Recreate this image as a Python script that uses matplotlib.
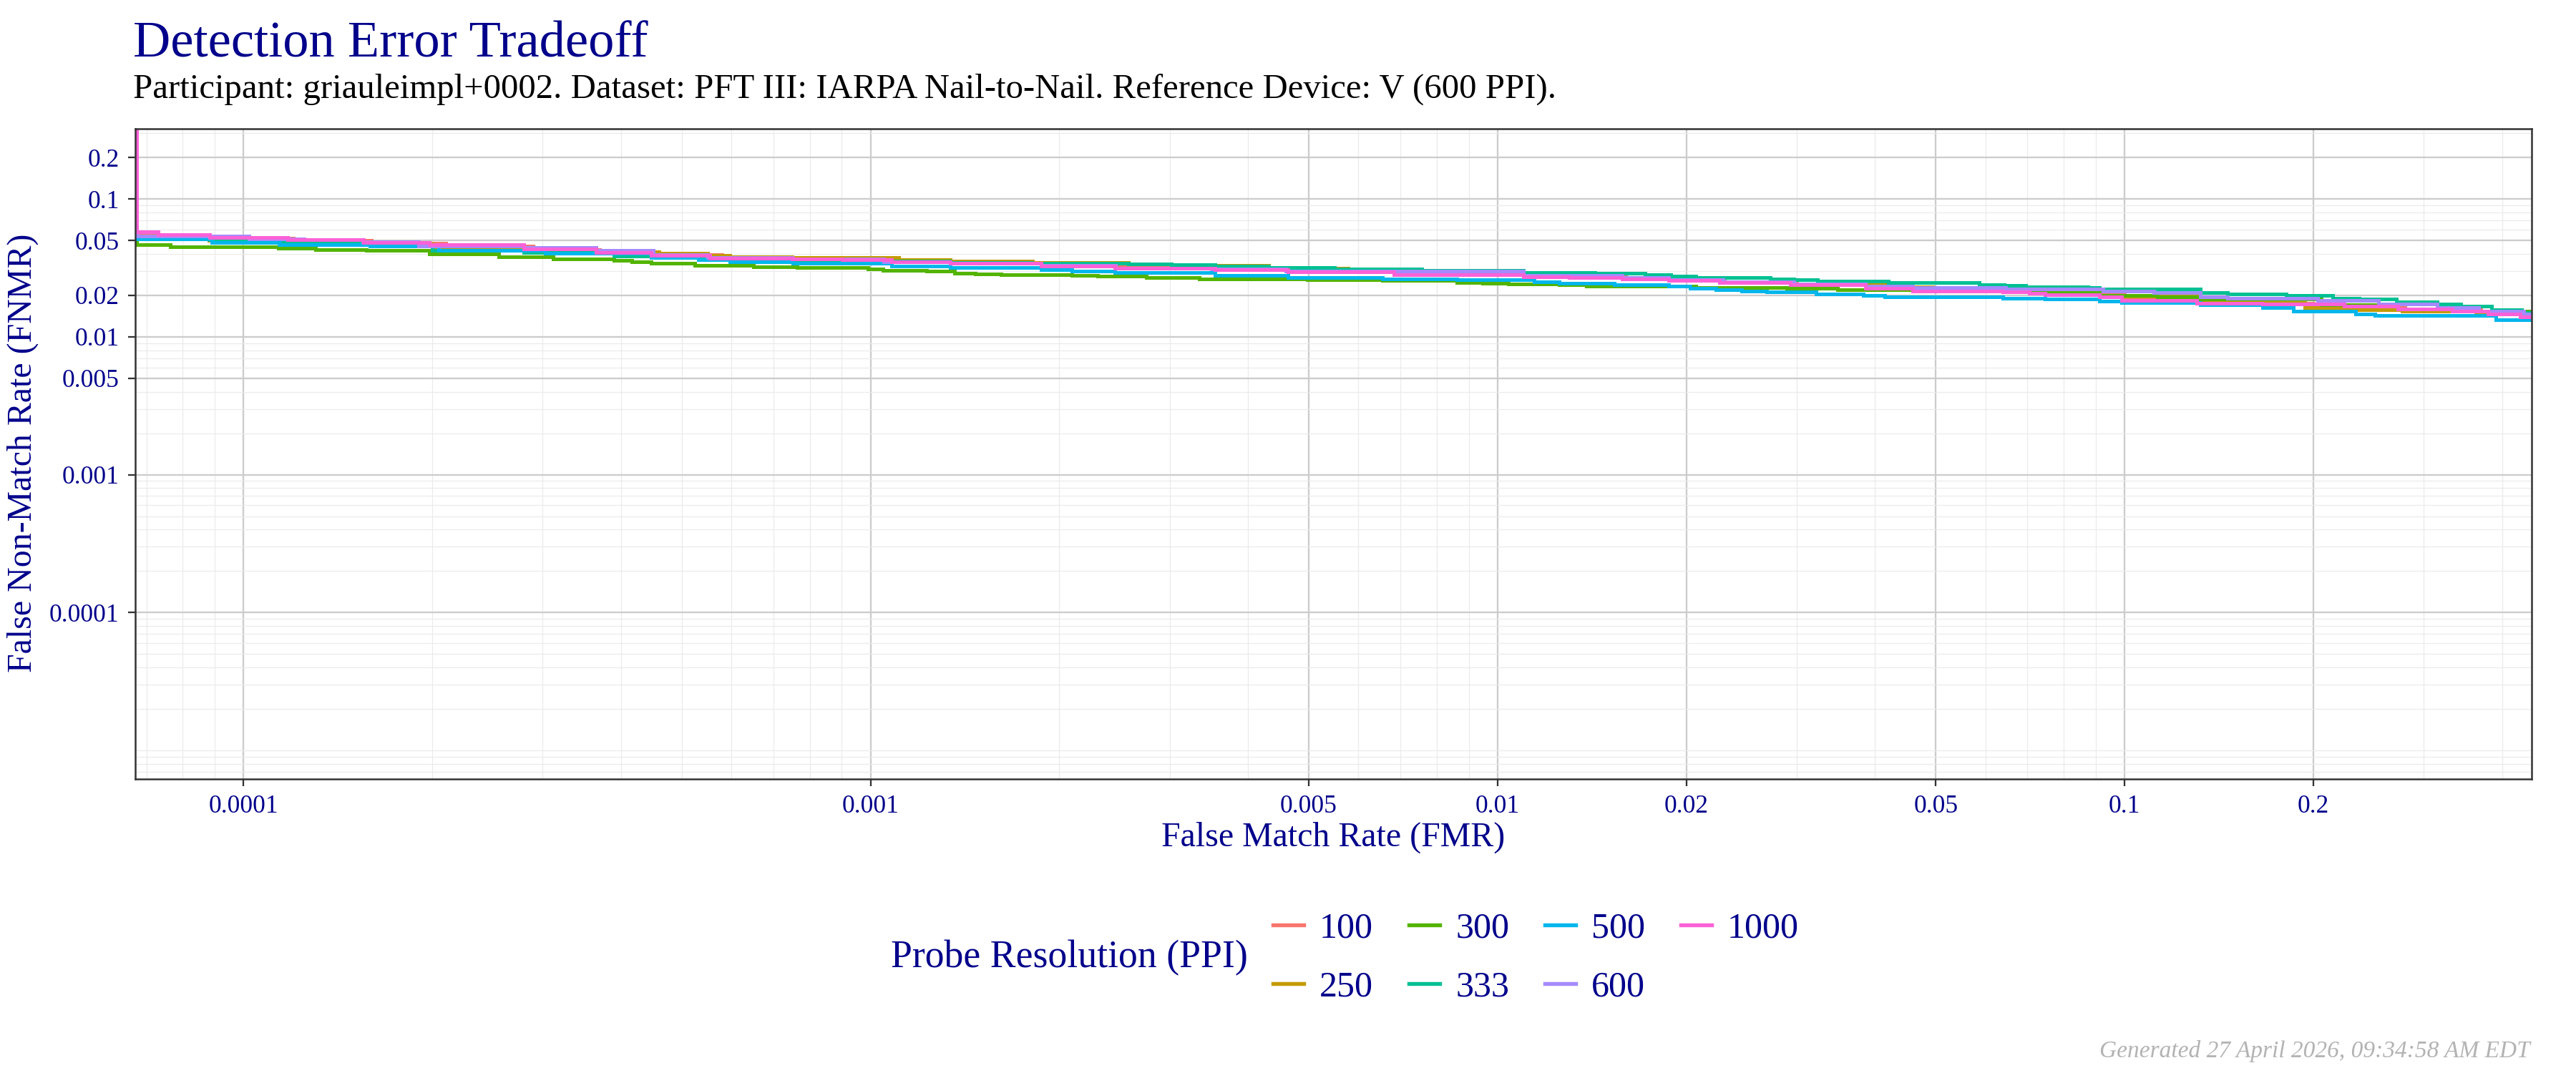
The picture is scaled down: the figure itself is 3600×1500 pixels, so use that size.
import matplotlib
matplotlib.use("Agg")
import matplotlib.pyplot as plt
from matplotlib.ticker import FixedLocator, NullFormatter
from matplotlib.lines import Line2D

plt.rcParams['font.family'] = ['Liberation Serif', 'DejaVu Serif']

# ---------------- data ----------------
series_labels = ["100", "250", "300", "333", "500", "600", "1000"]
series_colors = ["#F8766D", "#C49A00", "#53B400", "#00C094", "#00B6EB", "#A58AFF", "#FB61D7"]

fmr_100 = [6.75e-5, 6.75e-5, 8.8e-5, 1.2e-4, 1.6e-4, 2.1e-4, 2.9e-4, 3.7e-4, 4.6e-4, 5.8e-4, 7.5e-4, 1.05e-3,
           1.4e-3, 1.9e-3, 2.6e-3, 3.5e-3, 4.7e-3, 6.9e-3, 1.1e-2, 1.6e-2, 2.3e-2, 3.0e-2, 4.0e-2, 5.5e-2,
           7.5e-2, 0.1, 0.14, 0.2, 0.28, 0.37, 0.46]
fnmr_100 = [1.0, 0.0545, 0.0520, 0.0500, 0.0480, 0.0455, 0.0430, 0.0412, 0.0395, 0.0378, 0.0368, 0.0352,
            0.0343, 0.0331, 0.0318, 0.0309, 0.0299, 0.0286, 0.0274, 0.0264, 0.0251, 0.0240, 0.0228, 0.0218,
            0.0205, 0.0186, 0.0176, 0.0166, 0.0157, 0.0149, 0.0149]

fmr_250 = [6.75e-5, 6.75e-5, 8.8e-5, 1.18e-4, 1.55e-4, 2.0e-4, 2.8e-4, 3.65e-4, 4.6e-4, 5.5e-4, 5.97e-4, 7.5e-4,
           1.11e-3, 1.34e-3, 1.813e-3, 2.58e-3, 3.02e-3, 4.31e-3, 5.16e-3, 5.77e-3, 6.98e-3, 1.10e-2, 1.58e-2,
           2.26e-2, 2.93e-2, 4.15e-2, 4.94e-2, 7.05e-2, 9.13e-2, 0.1322, 0.194, 0.2337, 0.277, 0.363, 0.46]
fnmr_250 = [1.0, 0.0525, 0.0500, 0.0485, 0.0470, 0.0450, 0.0432, 0.0415, 0.0402, 0.0391, 0.0380, 0.0375,
            0.0361, 0.0355, 0.0348, 0.0337, 0.0330, 0.0318, 0.0314, 0.0308, 0.0295, 0.0280, 0.0266,
            0.0250, 0.0240, 0.0230, 0.0222, 0.0209, 0.0198, 0.0180, 0.0163, 0.0157, 0.0153, 0.0148, 0.0148]

fmr_300 = [6.75e-5, 6.75e-5, 7.64e-5, 1.136e-4, 1.302e-4, 1.57e-4, 1.978e-4, 2.55e-4, 3.12e-4, 3.90e-4,
           4.16e-4, 4.47e-4, 5.24e-4, 6.51e-4, 7.63e-4, 9.90e-4, 1.048e-3, 1.229e-3, 1.36e-3, 1.47e-3,
           1.616e-3, 2.094e-3, 2.30e-3, 2.755e-3, 3.345e-3, 4.97e-3, 6.55e-3, 8.62e-3, 9.47e-3, 1.04e-2,
           1.254e-2, 1.387e-2, 2.07e-2, 2.89e-2, 3.49e-2, 4.94e-2, 9.13e-2, 0.1128, 0.1322, 0.206, 0.273,
           0.363, 0.46]
fnmr_300 = [1.0, 0.0467, 0.0449, 0.0440, 0.0428, 0.0423, 0.0399, 0.0379, 0.0368, 0.0358,
            0.0350, 0.0340, 0.0331, 0.0323, 0.0320, 0.0311, 0.0305, 0.0298, 0.0290, 0.0287,
            0.0282, 0.0278, 0.0275, 0.0270, 0.0264, 0.0259, 0.0257, 0.0249, 0.0245, 0.0242,
            0.0238, 0.0233, 0.0228, 0.0224, 0.0219, 0.0215, 0.0200, 0.0195, 0.0187, 0.0170, 0.0160,
            0.0153, 0.0153]

fmr_333 = [6.75e-5, 6.75e-5, 8.8e-5, 1.14e-4, 1.55e-4, 2.0e-4, 2.8e-4, 3.9e-4, 4.5e-4, 5.5e-4, 7.5e-4,
           1.05e-3, 1.34e-3, 1.81e-3, 2.58e-3, 3.02e-3, 3.545e-3, 4.31e-3, 5.5e-3, 7.57e-3, 1.10e-2,
           1.43e-2, 1.72e-2, 1.89e-2, 2.07e-2, 2.72e-2, 2.97e-2, 3.24e-2, 4.20e-2, 5.86e-2, 6.43e-2,
           6.96e-2, 8.74e-2, 9.13e-2, 0.1322, 0.146, 0.181, 0.2146, 0.237, 0.2714, 0.315, 0.3434, 0.385,
           0.43, 0.46]
fnmr_333 = [1.0, 0.0525, 0.0510, 0.0490, 0.0465, 0.0423, 0.0410, 0.0383, 0.0378, 0.0370, 0.0365,
            0.0353, 0.0345, 0.0340, 0.0337, 0.0335, 0.0327, 0.0318, 0.0310, 0.0302, 0.0292,
            0.0288, 0.0282, 0.0275, 0.0270, 0.0264, 0.0259, 0.0254, 0.0247, 0.0240, 0.0235,
            0.0231, 0.0227, 0.0222, 0.0210, 0.0204, 0.0199, 0.0191, 0.0187, 0.0180, 0.0173, 0.0166, 0.0157,
            0.0150, 0.0150]

fmr_500 = [6.75e-5, 6.75e-5, 8.9e-5, 1.14e-4, 1.59e-4, 2.05e-4, 3.03e-4, 4.47e-4, 5.31e-4, 5.97e-4, 7.52e-4,
           1.08e-3, 1.34e-3, 1.87e-3, 2.094e-3, 2.455e-3, 3.545e-3, 4.63e-3, 6.55e-3, 8.62e-3, 1.145e-2,
           1.254e-2, 1.535e-2, 1.877e-2, 2.03e-2, 2.23e-2, 2.45e-2, 2.69e-2, 3.225e-2, 3.835e-2, 4.15e-2,
           6.39e-2, 7.47e-2, 9.13e-2, 9.90e-2, 0.1322, 0.166, 0.186, 0.2337, 0.2508, 0.391, 0.46]
fnmr_500 = [1.0, 0.0516, 0.0486, 0.0469, 0.0453, 0.0426, 0.0406, 0.0375, 0.0361, 0.0350, 0.0340,
            0.0327, 0.0320, 0.0308, 0.0298, 0.0292, 0.0278, 0.0270, 0.0264, 0.0259, 0.0250,
            0.0244, 0.0238, 0.0233, 0.0224, 0.0219, 0.0215, 0.0213, 0.0205, 0.0199, 0.0195,
            0.0191, 0.0187, 0.0182, 0.0178, 0.0171, 0.0163, 0.0153, 0.0147, 0.0143, 0.0133, 0.0133]

fmr_600 = [6.75e-5, 6.75e-5, 1.02e-4, 1.25e-4, 1.55e-4, 1.9e-4, 2.80e-4, 3.65e-4, 4.5e-4, 5.5e-4, 7.5e-4,
           1.05e-3, 1.34e-3, 1.87e-3, 2.46e-3, 3.5e-3, 4.6e-3, 6.83e-3, 1.10e-2, 1.58e-2, 1.877e-2,
           2.29e-2, 2.97e-2, 3.86e-2, 4.59e-2, 6.47e-2, 9.24e-2, 0.1114, 0.1322, 0.146, 0.203, 0.254,
           0.315, 0.367, 0.433, 0.46]
fnmr_600 = [1.0, 0.0540, 0.0516, 0.0505, 0.0488, 0.0458, 0.0446, 0.0423, 0.0395, 0.0378, 0.0368,
            0.0352, 0.0343, 0.0330, 0.0316, 0.0310, 0.0300, 0.0299, 0.0278, 0.0268, 0.0261,
            0.0252, 0.0242, 0.0233, 0.0228, 0.0222, 0.0215, 0.0210, 0.0195, 0.0191, 0.0184, 0.0173,
            0.0163, 0.0153, 0.0146, 0.0146]

fmr_1000 = [6.75e-5, 6.75e-5, 7.31e-5, 8.83e-5, 1.177e-4, 1.553e-4, 1.978e-4, 2.80e-4, 3.65e-4, 4.47e-4,
            5.55e-4, 7.52e-4, 9.01e-4, 1.08e-3, 1.34e-3, 1.87e-3, 2.455e-3, 3.545e-3, 4.63e-3, 6.83e-3,
            1.10e-2, 1.30e-2, 1.58e-2, 1.877e-2, 2.26e-2, 2.93e-2, 3.86e-2, 4.59e-2, 6.39e-2, 7.05e-2,
            7.47e-2, 9.13e-2, 9.90e-2, 0.1302, 0.166, 0.224, 0.273, 0.333, 0.3795, 0.427, 0.46]
fnmr_1000 = [1.0, 0.0577, 0.0553, 0.0526, 0.0510, 0.0486, 0.0464, 0.0432, 0.0410, 0.0391,
             0.0371, 0.0368, 0.0363, 0.0350, 0.0340, 0.0327, 0.0314, 0.0308, 0.0296, 0.0282,
             0.0273, 0.0269, 0.0264, 0.0257, 0.0249, 0.0238, 0.0224, 0.0215, 0.0211, 0.0207,
             0.0203, 0.0195, 0.0184, 0.0176, 0.0173, 0.0166, 0.0160, 0.0153, 0.0146, 0.0140, 0.0140]

series_fmr = [fmr_100, fmr_250, fmr_300, fmr_333, fmr_500, fmr_600, fmr_1000]
series_fnmr = [fnmr_100, fnmr_250, fnmr_300, fnmr_333, fnmr_500, fnmr_600, fnmr_1000]

x_ticks = [0.0001, 0.001, 0.005, 0.01, 0.02, 0.05, 0.1, 0.2]
x_tick_labels = ["0.0001", "0.001", "0.005", "0.01", "0.02", "0.05", "0.1", "0.2"]
y_ticks = [0.0001, 0.001, 0.005, 0.01, 0.02, 0.05, 0.1, 0.2]
y_tick_labels = ["0.0001", "0.001", "0.005", "0.01", "0.02", "0.05", "0.1", "0.2"]

title = "Detection Error Tradeoff"
subtitle = "Participant: griauleimpl+0002. Dataset: PFT III: IARPA Nail-to-Nail. Reference Device: V (600 PPI)."
caption = "Generated 27 April 2026, 09:34:58 AM EDT"
xlabel = "False Match Rate (FMR)"
ylabel = "False Non-Match Rate (FNMR)"
legend_title = "Probe Resolution (PPI)"

# ---------------- styling ----------------
navy = "#00008B"
dark = "#333333"

fig = plt.figure(figsize=(12, 5), dpi=300)
ax = fig.add_axes([0.0525, 0.2742, 0.9303, 0.6056])
ax.set_xscale("log")
ax.set_yscale("log")
ax.set_xlim(6.72e-5, 0.446)
ax.set_ylim(6.22e-6, 0.322)

# minor grid positions (n * 10^k)
minor_x = [n * 10.0 ** k for k in range(-5, 0) for n in range(1, 10)]
minor_x = [v for v in minor_x if all(abs(v - t) / t > 1e-6 for t in x_ticks)]
minor_y = [n * 10.0 ** k for k in range(-6, 0) for n in range(1, 10)]
minor_y = [v for v in minor_y if all(abs(v - t) / t > 1e-6 for t in y_ticks)]

ax.xaxis.set_major_locator(FixedLocator(x_ticks))
ax.set_xticklabels(x_tick_labels)
ax.yaxis.set_major_locator(FixedLocator(y_ticks))
ax.set_yticklabels(y_tick_labels)
ax.xaxis.set_minor_locator(FixedLocator(minor_x))
ax.yaxis.set_minor_locator(FixedLocator(minor_y))
ax.xaxis.set_minor_formatter(NullFormatter())
ax.yaxis.set_minor_formatter(NullFormatter())

ax.set_axisbelow(True)
ax.grid(which="major", color="#CCCCCC", linewidth=0.55)
ax.grid(which="minor", color="#EBEBEB", linewidth=0.3)
ax.tick_params(which="minor", length=0)
ax.tick_params(which="major", length=2.4, width=0.55, color=dark, labelcolor=navy,
               labelsize=8.5, pad=3.0)
for s in ax.spines.values():
    s.set_color(dark)
    s.set_linewidth(0.6)

for fx, fy, c in zip(series_fmr, series_fnmr, series_colors):
    ax.step(fx, fy, where="post", color=c, linewidth=1.2, solid_joinstyle="miter")

# titles
fig.text(0.0517, 0.947, title, fontsize=17.4, color=navy, va="baseline", ha="left")
fig.text(0.0517, 0.909, subtitle, fontsize=11.7, color="black", va="baseline", ha="left")
fig.text(0.5175, 0.2193, xlabel, fontsize=11.5, color=navy, va="center", ha="center")
fig.text(0.0089, 0.578, ylabel, fontsize=11.5, color=navy, va="center", ha="center", rotation=90)
fig.text(0.9822, 0.0147, caption, fontsize=8, color="#B3B3B3", style="italic",
         va="baseline", ha="right")

# legend
handles = [Line2D([], [], color=c, linewidth=1.3) for c in series_colors]
leg = fig.legend(handles, series_labels, ncol=4, loc="center left",
                 bbox_to_anchor=(0.4942, 0.1073), frameon=False, fontsize=12,
                 handlelength=0.85, handletextpad=0.45, columnspacing=1.0,
                 labelspacing=0.72, borderpad=0, borderaxespad=0)
for t in leg.get_texts():
    t.set_color(navy)
fig.text(0.3458, 0.1073, legend_title, fontsize=12.9, color=navy, va="center", ha="left")

fig.savefig("out.png", dpi=300, facecolor="white")
